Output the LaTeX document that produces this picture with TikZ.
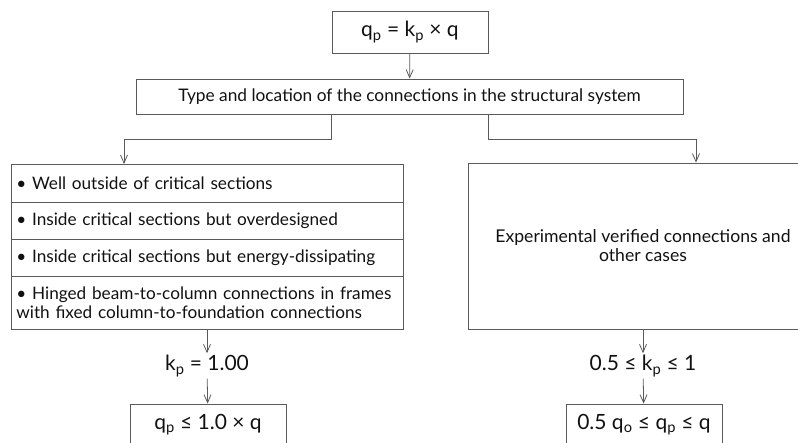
\documentclass[tikz,border=0pt]{standalone}
\usepackage{fontspec}
\setmainfont{Lato}
\usetikzlibrary{arrows.meta}
\definecolor{linec}{HTML}{5A5A5A}
\definecolor{textc}{HTML}{111111}
\newcommand\ix[1]{\textsubscript{#1}}

\begin{document}
\begin{tikzpicture}[x=1pt, y=-1pt,
		box/.style={draw=linec, line width=0.8pt, text=textc, inner sep=0pt, align=center, font=\fontsize{17.3}{19}\selectfont},
		rowbox/.style={box, anchor=north west, minimum width=392pt, text width=382pt, inner xsep=5pt, align=left, font=\fontsize{17.2}{18.5}\selectfont},
		bigtxt/.style={text=textc, inner sep=2pt, font=\fontsize{21}{24}\selectfont},
		conn/.style={draw=linec, line width=0.8pt, -{Straight Barb[length=8pt,width=7pt]}}]
		%%%%% START %%%%%
		
		\useasboundingbox (0, 0) rectangle (798, 443);
		\clip (0, 0) rectangle (798, 443);
		
		\node[box, bigtxt, minimum width=156pt, minimum height=42pt] (top) at (410, 32) {q\ix{p} = k\ix{p} × q};
		\node[box, minimum width=547pt, minimum height=35pt] (type) at (409.5, 96.5) {Type and location of the connections in the structural system};
		
		\node[rowbox, minimum height=38pt] (row1) at (11, 164) {\textbullet\ Well outside of critical sections};
		\node[rowbox, minimum height=37pt] (row2) at (11, 202) {\textbullet\ Inside critical sections but overdesigned};
		\node[rowbox, minimum height=37pt] (row3) at (11, 239) {\textbullet\ Inside critical sections but energy-dissipating};
		\node[rowbox, minimum height=53pt] (row4) at (11, 276) {\textbullet\ Hinged beam-to-column connections in frames\\with fixed column-to-foundation connections};
		
		\node[box, font=\fontsize{17.6}{19}\selectfont, minimum width=350pt, minimum height=166pt] (exp) at (643, 246) {Experimental verified connections and\\other cases};
		
		\node[bigtxt] (kl) at (207, 366) {k\ix{p} = 1.00};
		\node[bigtxt] (kr) at (643, 366) {0.5 ≤ k\ix{p} ≤ 1};
		
		\node[box, bigtxt, minimum width=156pt, minimum height=42pt] (ql) at (208, 425) {q\ix{p} ≤ 1.0 × q};
		\node[box, bigtxt, minimum width=156pt, minimum height=42pt] (qr) at (644, 425) {0.5 q\ix{o} ≤ q\ix{p} ≤ q};
		
		\coordinate (lbend) at (124, 139);
		\coordinate (rbend) at (696, 139);
		
		\draw[conn] (top) -- (type);
		\draw[conn] (top.west |- type.south) |- (lbend) -- (lbend |- row1.north);
		\draw[conn] (top.east |- type.south) |- (rbend) -- (rbend |- exp.north);
		
		\draw[conn] (row4.south -| kl) -- (kl);
		\draw[conn] (kl) -- (ql);
		\draw[conn] (exp.south -| kr) -- (kr);
		\draw[conn] (kr) -- (qr);
		
		%%%%% END %%%%%
	\end{tikzpicture}
\end{document}
